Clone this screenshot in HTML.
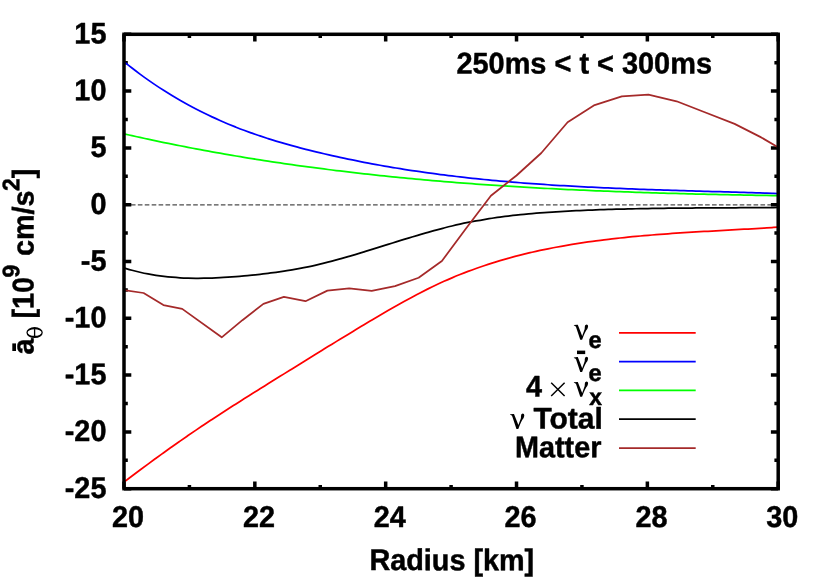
<!DOCTYPE html>
<html><head><meta charset="utf-8"><title>plot</title>
<style>html,body{margin:0;padding:0;background:#fff;}svg{display:block;will-change:transform;}
text{font-family:"Liberation Sans",sans-serif;font-weight:bold;font-size:28.8px;fill:#000;stroke:#000;stroke-width:0.45px;stroke-linejoin:round;text-rendering:geometricPrecision;}
.sy{font-family:"Liberation Serif",serif;font-weight:normal;}
.sm{font-size:23.0px;}
</style></head><body>
<svg width="830" height="581" viewBox="0 0 830 581">
<rect width="830" height="581" fill="#fff"/>
<defs><clipPath id="c"><rect x="124.0" y="34.3" width="654.2" height="454.4"/></clipPath></defs>
<line x1="124.0" y1="204.80" x2="778.2" y2="204.80" stroke="#4d4d4d" stroke-width="1.3" stroke-dasharray="4.612 2.306"/>
<path d="M124.00 488.70 h7.30 M778.20 488.70 h-7.30 M124.00 460.30 h3.80 M778.20 460.30 h-3.80 M124.00 431.90 h7.30 M778.20 431.90 h-7.30 M124.00 403.50 h3.80 M778.20 403.50 h-3.80 M124.00 375.10 h7.30 M778.20 375.10 h-7.30 M124.00 346.70 h3.80 M778.20 346.70 h-3.80 M124.00 318.30 h7.30 M778.20 318.30 h-7.30 M124.00 289.90 h3.80 M778.20 289.90 h-3.80 M124.00 261.50 h7.30 M778.20 261.50 h-7.30 M124.00 233.10 h3.80 M778.20 233.10 h-3.80 M124.00 204.70 h7.30 M778.20 204.70 h-7.30 M124.00 176.30 h3.80 M778.20 176.30 h-3.80 M124.00 147.90 h7.30 M778.20 147.90 h-7.30 M124.00 119.50 h3.80 M778.20 119.50 h-3.80 M124.00 91.10 h7.30 M778.20 91.10 h-7.30 M124.00 62.70 h3.80 M778.20 62.70 h-3.80 M124.00 34.30 h7.30 M778.20 34.30 h-7.30 M124.00 488.70 v-7.30 M124.00 34.30 v7.30 M189.42 488.70 v-3.80 M189.42 34.30 v3.80 M254.84 488.70 v-7.30 M254.84 34.30 v7.30 M320.26 488.70 v-3.80 M320.26 34.30 v3.80 M385.68 488.70 v-7.30 M385.68 34.30 v7.30 M451.10 488.70 v-3.80 M451.10 34.30 v3.80 M516.52 488.70 v-7.30 M516.52 34.30 v7.30 M581.94 488.70 v-3.80 M581.94 34.30 v3.80 M647.36 488.70 v-7.30 M647.36 34.30 v7.30 M712.78 488.70 v-3.80 M712.78 34.30 v3.80 M778.20 488.70 v-7.30 M778.20 34.30 v7.30" stroke="#000" stroke-width="3.5" fill="none"/>
<g clip-path="url(#c)" fill="none" stroke-width="1.75" stroke-linejoin="round">
<path d="M124.00 482.13 C125.33 481.11 129.33 478.05 132.00 476.03 C134.67 474.02 137.33 472.01 140.00 470.02 C142.67 468.03 145.33 466.05 148.00 464.09 C150.67 462.12 153.33 460.17 156.00 458.23 C158.67 456.29 161.33 454.37 164.00 452.45 C166.67 450.54 169.33 448.64 172.00 446.75 C174.67 444.86 177.33 442.99 180.00 441.13 C182.67 439.27 185.33 437.42 188.00 435.58 C190.67 433.75 193.33 431.92 196.00 430.11 C198.67 428.30 201.33 426.51 204.00 424.72 C206.67 422.94 209.33 421.17 212.00 419.41 C214.67 417.65 217.33 415.90 220.00 414.17 C222.67 412.44 225.33 410.71 228.00 409.00 C230.67 407.29 233.33 405.59 236.00 403.89 C238.67 402.20 241.33 400.51 244.00 398.83 C246.67 397.15 249.33 395.48 252.00 393.81 C254.67 392.14 257.33 390.47 260.00 388.81 C262.67 387.14 265.33 385.49 268.00 383.83 C270.67 382.17 273.33 380.51 276.00 378.85 C278.67 377.19 281.33 375.53 284.00 373.87 C286.67 372.21 289.33 370.55 292.00 368.90 C294.67 367.24 297.33 365.58 300.00 363.92 C302.67 362.27 305.33 360.61 308.00 358.96 C310.67 357.31 313.33 355.65 316.00 354.01 C318.67 352.36 321.33 350.71 324.00 349.07 C326.67 347.43 329.33 345.79 332.00 344.15 C334.67 342.51 337.33 340.88 340.00 339.25 C342.67 337.63 345.33 336.00 348.00 334.39 C350.67 332.77 353.33 331.16 356.00 329.55 C358.67 327.94 361.33 326.34 364.00 324.74 C366.67 323.15 369.33 321.56 372.00 319.98 C374.67 318.40 377.33 316.82 380.00 315.26 C382.67 313.69 385.33 312.13 388.00 310.59 C390.67 309.05 393.33 307.52 396.00 306.01 C398.67 304.50 401.33 303.00 404.00 301.52 C406.67 300.05 409.33 298.59 412.00 297.16 C414.67 295.73 417.33 294.31 420.00 292.93 C422.67 291.55 425.33 290.20 428.00 288.87 C430.67 287.55 433.33 286.25 436.00 285.00 C438.67 283.74 441.33 282.51 444.00 281.32 C446.67 280.12 449.33 278.96 452.00 277.83 C454.67 276.70 457.33 275.60 460.00 274.53 C462.67 273.47 465.33 272.43 468.00 271.42 C470.67 270.41 473.33 269.43 476.00 268.48 C478.67 267.53 481.33 266.60 484.00 265.71 C486.67 264.81 489.33 263.94 492.00 263.10 C494.67 262.25 497.33 261.43 500.00 260.64 C502.67 259.85 505.33 259.08 508.00 258.33 C510.67 257.59 513.33 256.87 516.00 256.17 C518.67 255.47 521.33 254.79 524.00 254.14 C526.67 253.48 529.33 252.85 532.00 252.24 C534.67 251.62 537.33 251.03 540.00 250.46 C542.67 249.88 545.33 249.33 548.00 248.79 C550.67 248.26 553.33 247.74 556.00 247.24 C558.67 246.74 561.33 246.25 564.00 245.78 C566.67 245.32 569.33 244.86 572.00 244.43 C574.67 243.99 577.33 243.57 580.00 243.16 C582.67 242.75 585.33 242.36 588.00 241.98 C590.67 241.60 593.33 241.23 596.00 240.87 C598.67 240.52 601.33 240.18 604.00 239.85 C606.67 239.52 609.33 239.20 612.00 238.89 C614.67 238.58 617.33 238.28 620.00 238.00 C622.67 237.71 625.33 237.44 628.00 237.17 C630.67 236.90 633.33 236.65 636.00 236.40 C638.67 236.15 641.33 235.91 644.00 235.68 C646.67 235.44 649.33 235.22 652.00 235.00 C654.67 234.79 657.33 234.58 660.00 234.38 C662.67 234.17 665.33 233.98 668.00 233.79 C670.67 233.60 673.33 233.41 676.00 233.23 C678.67 233.05 681.33 232.88 684.00 232.71 C686.67 232.53 689.33 232.37 692.00 232.20 C694.67 232.04 697.33 231.88 700.00 231.72 C702.67 231.57 705.33 231.41 708.00 231.26 C710.67 231.11 713.33 230.96 716.00 230.81 C718.67 230.66 721.33 230.51 724.00 230.36 C726.67 230.21 729.33 230.07 732.00 229.92 C734.67 229.77 737.33 229.62 740.00 229.47 C742.67 229.32 745.33 229.17 748.00 229.02 C750.67 228.87 753.33 228.71 756.00 228.55 C758.67 228.40 761.33 228.24 764.00 228.07 C766.67 227.91 769.63 227.72 772.00 227.57 C774.37 227.42 777.17 227.24 778.20 227.17" stroke="#ff0000"/>
<path d="M124.00 61.64 C125.33 62.70 129.33 65.94 132.00 68.01 C134.67 70.09 137.33 72.11 140.00 74.09 C142.67 76.06 145.33 77.99 148.00 79.87 C150.67 81.75 153.33 83.59 156.00 85.38 C158.67 87.17 161.33 88.91 164.00 90.61 C166.67 92.31 169.33 93.97 172.00 95.59 C174.67 97.20 177.33 98.77 180.00 100.31 C182.67 101.84 185.33 103.34 188.00 104.79 C190.67 106.25 193.33 107.66 196.00 109.04 C198.67 110.42 201.33 111.77 204.00 113.08 C206.67 114.38 209.33 115.66 212.00 116.90 C214.67 118.14 217.33 119.34 220.00 120.51 C222.67 121.69 225.33 122.83 228.00 123.94 C230.67 125.05 233.33 126.13 236.00 127.19 C238.67 128.24 241.33 129.27 244.00 130.26 C246.67 131.26 249.33 132.23 252.00 133.18 C254.67 134.12 257.33 135.04 260.00 135.94 C262.67 136.83 265.33 137.71 268.00 138.56 C270.67 139.41 273.33 140.24 276.00 141.04 C278.67 141.85 281.33 142.64 284.00 143.41 C286.67 144.18 289.33 144.93 292.00 145.66 C294.67 146.40 297.33 147.11 300.00 147.81 C302.67 148.51 305.33 149.20 308.00 149.87 C310.67 150.54 313.33 151.20 316.00 151.85 C318.67 152.49 321.33 153.12 324.00 153.75 C326.67 154.37 329.33 154.98 332.00 155.58 C334.67 156.18 337.33 156.77 340.00 157.35 C342.67 157.93 345.33 158.50 348.00 159.06 C350.67 159.61 353.33 160.16 356.00 160.70 C358.67 161.23 361.33 161.76 364.00 162.28 C366.67 162.79 369.33 163.30 372.00 163.80 C374.67 164.29 377.33 164.78 380.00 165.26 C382.67 165.73 385.33 166.20 388.00 166.66 C390.67 167.12 393.33 167.57 396.00 168.00 C398.67 168.44 401.33 168.87 404.00 169.30 C406.67 169.72 409.33 170.13 412.00 170.53 C414.67 170.94 417.33 171.33 420.00 171.72 C422.67 172.11 425.33 172.49 428.00 172.86 C430.67 173.23 433.33 173.59 436.00 173.94 C438.67 174.30 441.33 174.64 444.00 174.98 C446.67 175.32 449.33 175.65 452.00 175.97 C454.67 176.30 457.33 176.61 460.00 176.92 C462.67 177.23 465.33 177.53 468.00 177.82 C470.67 178.12 473.33 178.40 476.00 178.68 C478.67 178.96 481.33 179.24 484.00 179.50 C486.67 179.77 489.33 180.03 492.00 180.28 C494.67 180.54 497.33 180.78 500.00 181.02 C502.67 181.27 505.33 181.50 508.00 181.73 C510.67 181.96 513.33 182.18 516.00 182.40 C518.67 182.62 521.33 182.83 524.00 183.03 C526.67 183.24 529.33 183.44 532.00 183.63 C534.67 183.83 537.33 184.02 540.00 184.21 C542.67 184.39 545.33 184.57 548.00 184.75 C550.67 184.92 553.33 185.09 556.00 185.26 C558.67 185.42 561.33 185.59 564.00 185.74 C566.67 185.90 569.33 186.05 572.00 186.20 C574.67 186.35 577.33 186.50 580.00 186.64 C582.67 186.78 585.33 186.92 588.00 187.05 C590.67 187.18 593.33 187.31 596.00 187.44 C598.67 187.56 601.33 187.69 604.00 187.81 C606.67 187.93 609.33 188.04 612.00 188.16 C614.67 188.27 617.33 188.38 620.00 188.49 C622.67 188.60 625.33 188.70 628.00 188.81 C630.67 188.91 633.33 189.01 636.00 189.11 C638.67 189.21 641.33 189.30 644.00 189.40 C646.67 189.49 649.33 189.58 652.00 189.67 C654.67 189.76 657.33 189.85 660.00 189.94 C662.67 190.03 665.33 190.11 668.00 190.20 C670.67 190.28 673.33 190.36 676.00 190.44 C678.67 190.52 681.33 190.61 684.00 190.68 C686.67 190.76 689.33 190.84 692.00 190.92 C694.67 191.00 697.33 191.08 700.00 191.15 C702.67 191.23 705.33 191.31 708.00 191.38 C710.67 191.46 713.33 191.54 716.00 191.61 C718.67 191.69 721.33 191.77 724.00 191.84 C726.67 191.92 729.33 192.00 732.00 192.07 C734.67 192.15 737.33 192.23 740.00 192.31 C742.67 192.39 745.33 192.47 748.00 192.55 C750.67 192.63 753.33 192.71 756.00 192.79 C758.67 192.87 761.33 192.96 764.00 193.04 C766.67 193.13 769.63 193.22 772.00 193.30 C774.37 193.38 777.17 193.48 778.20 193.51" stroke="#0000ff"/>
<path d="M124.00 133.85 C125.33 134.15 129.33 135.06 132.00 135.66 C134.67 136.26 137.33 136.85 140.00 137.43 C142.67 138.02 145.33 138.60 148.00 139.17 C150.67 139.74 153.33 140.31 156.00 140.87 C158.67 141.43 161.33 141.99 164.00 142.54 C166.67 143.09 169.33 143.63 172.00 144.17 C174.67 144.70 177.33 145.24 180.00 145.76 C182.67 146.29 185.33 146.81 188.00 147.32 C190.67 147.84 193.33 148.35 196.00 148.85 C198.67 149.35 201.33 149.85 204.00 150.34 C206.67 150.84 209.33 151.32 212.00 151.80 C214.67 152.28 217.33 152.76 220.00 153.23 C222.67 153.70 225.33 154.17 228.00 154.62 C230.67 155.08 233.33 155.54 236.00 155.99 C238.67 156.44 241.33 156.88 244.00 157.32 C246.67 157.76 249.33 158.19 252.00 158.62 C254.67 159.05 257.33 159.47 260.00 159.89 C262.67 160.31 265.33 160.72 268.00 161.13 C270.67 161.54 273.33 161.94 276.00 162.34 C278.67 162.74 281.33 163.13 284.00 163.52 C286.67 163.90 289.33 164.29 292.00 164.67 C294.67 165.05 297.33 165.42 300.00 165.79 C302.67 166.16 305.33 166.52 308.00 166.88 C310.67 167.24 313.33 167.60 316.00 167.95 C318.67 168.30 321.33 168.64 324.00 168.99 C326.67 169.33 329.33 169.66 332.00 170.00 C334.67 170.33 337.33 170.66 340.00 170.98 C342.67 171.30 345.33 171.62 348.00 171.94 C350.67 172.25 353.33 172.56 356.00 172.87 C358.67 173.18 361.33 173.48 364.00 173.78 C366.67 174.07 369.33 174.37 372.00 174.66 C374.67 174.95 377.33 175.23 380.00 175.51 C382.67 175.79 385.33 176.07 388.00 176.34 C390.67 176.62 393.33 176.89 396.00 177.15 C398.67 177.42 401.33 177.68 404.00 177.94 C406.67 178.19 409.33 178.45 412.00 178.70 C414.67 178.95 417.33 179.19 420.00 179.44 C422.67 179.68 425.33 179.92 428.00 180.15 C430.67 180.39 433.33 180.62 436.00 180.85 C438.67 181.08 441.33 181.30 444.00 181.52 C446.67 181.74 449.33 181.96 452.00 182.17 C454.67 182.39 457.33 182.60 460.00 182.80 C462.67 183.01 465.33 183.21 468.00 183.42 C470.67 183.62 473.33 183.81 476.00 184.01 C478.67 184.20 481.33 184.39 484.00 184.58 C486.67 184.77 489.33 184.95 492.00 185.13 C494.67 185.31 497.33 185.49 500.00 185.66 C502.67 185.84 505.33 186.01 508.00 186.18 C510.67 186.35 513.33 186.51 516.00 186.68 C518.67 186.84 521.33 187.00 524.00 187.16 C526.67 187.31 529.33 187.47 532.00 187.62 C534.67 187.77 537.33 187.92 540.00 188.07 C542.67 188.21 545.33 188.36 548.00 188.50 C550.67 188.64 553.33 188.78 556.00 188.91 C558.67 189.05 561.33 189.18 564.00 189.31 C566.67 189.44 569.33 189.57 572.00 189.69 C574.67 189.82 577.33 189.94 580.00 190.06 C582.67 190.18 585.33 190.30 588.00 190.42 C590.67 190.53 593.33 190.65 596.00 190.76 C598.67 190.87 601.33 190.98 604.00 191.09 C606.67 191.19 609.33 191.30 612.00 191.40 C614.67 191.50 617.33 191.60 620.00 191.70 C622.67 191.80 625.33 191.90 628.00 191.99 C630.67 192.09 633.33 192.18 636.00 192.27 C638.67 192.36 641.33 192.45 644.00 192.54 C646.67 192.62 649.33 192.71 652.00 192.79 C654.67 192.87 657.33 192.96 660.00 193.03 C662.67 193.11 665.33 193.19 668.00 193.27 C670.67 193.35 673.33 193.42 676.00 193.49 C678.67 193.57 681.33 193.64 684.00 193.71 C686.67 193.78 689.33 193.85 692.00 193.91 C694.67 193.98 697.33 194.05 700.00 194.11 C702.67 194.18 705.33 194.24 708.00 194.30 C710.67 194.36 713.33 194.42 716.00 194.48 C718.67 194.54 721.33 194.60 724.00 194.66 C726.67 194.71 729.33 194.77 732.00 194.82 C734.67 194.88 737.33 194.93 740.00 194.98 C742.67 195.04 745.33 195.09 748.00 195.14 C750.67 195.19 753.33 195.24 756.00 195.29 C758.67 195.34 761.33 195.38 764.00 195.43 C766.67 195.48 769.63 195.53 772.00 195.57 C774.37 195.61 777.17 195.65 778.20 195.67" stroke="#00ff00"/>
<path d="M124.00 267.92 C125.33 268.31 129.33 269.53 132.00 270.25 C134.67 270.97 137.33 271.63 140.00 272.24 C142.67 272.85 145.33 273.41 148.00 273.91 C150.67 274.42 153.33 274.87 156.00 275.28 C158.67 275.69 161.33 276.05 164.00 276.37 C166.67 276.69 169.33 276.96 172.00 277.19 C174.67 277.43 177.33 277.62 180.00 277.77 C182.67 277.93 185.33 278.04 188.00 278.13 C190.67 278.21 193.33 278.26 196.00 278.28 C198.67 278.30 201.33 278.28 204.00 278.24 C206.67 278.20 209.33 278.13 212.00 278.04 C214.67 277.94 217.33 277.82 220.00 277.69 C222.67 277.55 225.33 277.38 228.00 277.20 C230.67 277.03 233.33 276.83 236.00 276.61 C238.67 276.40 241.33 276.17 244.00 275.93 C246.67 275.69 249.33 275.44 252.00 275.17 C254.67 274.90 257.33 274.61 260.00 274.31 C262.67 274.01 265.33 273.69 268.00 273.35 C270.67 273.02 273.33 272.66 276.00 272.29 C278.67 271.91 281.33 271.52 284.00 271.11 C286.67 270.69 289.33 270.26 292.00 269.80 C294.67 269.34 297.33 268.86 300.00 268.36 C302.67 267.86 305.33 267.33 308.00 266.78 C310.67 266.23 313.33 265.65 316.00 265.05 C318.67 264.45 321.33 263.82 324.00 263.16 C326.67 262.51 329.33 261.83 332.00 261.13 C334.67 260.42 337.33 259.70 340.00 258.96 C342.67 258.22 345.33 257.45 348.00 256.68 C350.67 255.91 353.33 255.12 356.00 254.32 C358.67 253.52 361.33 252.70 364.00 251.88 C366.67 251.07 369.33 250.24 372.00 249.41 C374.67 248.58 377.33 247.74 380.00 246.91 C382.67 246.07 385.33 245.23 388.00 244.40 C390.67 243.56 393.33 242.73 396.00 241.90 C398.67 241.07 401.33 240.24 404.00 239.42 C406.67 238.60 409.33 237.79 412.00 236.99 C414.67 236.19 417.33 235.39 420.00 234.61 C422.67 233.83 425.33 233.06 428.00 232.31 C430.67 231.56 433.33 230.82 436.00 230.10 C438.67 229.38 441.33 228.67 444.00 227.99 C446.67 227.31 449.33 226.64 452.00 226.01 C454.67 225.37 457.33 224.75 460.00 224.16 C462.67 223.57 465.33 223.01 468.00 222.47 C470.67 221.93 473.33 221.42 476.00 220.92 C478.67 220.43 481.33 219.96 484.00 219.52 C486.67 219.07 489.33 218.65 492.00 218.24 C494.67 217.84 497.33 217.45 500.00 217.09 C502.67 216.72 505.33 216.38 508.00 216.05 C510.67 215.72 513.33 215.41 516.00 215.12 C518.67 214.82 521.33 214.55 524.00 214.28 C526.67 214.02 529.33 213.77 532.00 213.54 C534.67 213.31 537.33 213.09 540.00 212.88 C542.67 212.67 545.33 212.48 548.00 212.29 C550.67 212.11 553.33 211.93 556.00 211.77 C558.67 211.61 561.33 211.45 564.00 211.31 C566.67 211.16 569.33 211.02 572.00 210.89 C574.67 210.76 577.33 210.64 580.00 210.52 C582.67 210.40 585.33 210.29 588.00 210.18 C590.67 210.07 593.33 209.97 596.00 209.87 C598.67 209.78 601.33 209.69 604.00 209.60 C606.67 209.51 609.33 209.43 612.00 209.35 C614.67 209.27 617.33 209.20 620.00 209.13 C622.67 209.06 625.33 208.99 628.00 208.93 C630.67 208.87 633.33 208.81 636.00 208.75 C638.67 208.70 641.33 208.65 644.00 208.60 C646.67 208.55 649.33 208.51 652.00 208.46 C654.67 208.42 657.33 208.38 660.00 208.35 C662.67 208.31 665.33 208.28 668.00 208.24 C670.67 208.21 673.33 208.18 676.00 208.16 C678.67 208.13 681.33 208.10 684.00 208.08 C686.67 208.06 689.33 208.04 692.00 208.01 C694.67 207.99 697.33 207.98 700.00 207.96 C702.67 207.94 705.33 207.92 708.00 207.91 C710.67 207.89 713.33 207.88 716.00 207.86 C718.67 207.85 721.33 207.83 724.00 207.82 C726.67 207.81 729.33 207.79 732.00 207.78 C734.67 207.76 737.33 207.75 740.00 207.74 C742.67 207.72 745.33 207.71 748.00 207.69 C750.67 207.68 753.33 207.66 756.00 207.65 C758.67 207.63 761.33 207.61 764.00 207.59 C766.67 207.57 769.63 207.55 772.00 207.53 C774.37 207.51 777.17 207.49 778.20 207.48" stroke="#000000"/>
<path d="M124.00 290.10 L143.60 293.00 L163.40 305.10 L182.20 308.90 L221.70 337.30 L242.40 320.20 L263.40 303.90 L283.90 296.90 L305.50 301.20 L327.40 290.60 L349.20 288.30 L371.70 290.90 L395.00 286.10 L418.60 277.70 L441.90 261.00 L466.00 228.50 L490.90 195.80 L516.50 175.50 L541.30 153.00 L567.60 122.30 L594.60 105.10 L621.80 96.30 L648.40 94.70 L676.60 101.30 L704.80 112.30 L734.60 123.90 L761.20 137.40 L778.00 147.20" stroke="#a52a2a"/>
</g>
<rect x="124.0" y="34.3" width="654.20" height="454.40" fill="none" stroke="#000" stroke-width="3.5"/>
<text transform="translate(106.40 497.90) rotate(0.03) scale(1.0 1.04)" text-anchor="end">-25</text>
<text transform="translate(106.40 441.10) rotate(0.03) scale(1.0 1.04)" text-anchor="end">-20</text>
<text transform="translate(106.40 384.30) rotate(0.03) scale(1.0 1.04)" text-anchor="end">-15</text>
<text transform="translate(106.40 327.50) rotate(0.03) scale(1.0 1.04)" text-anchor="end">-10</text>
<text transform="translate(106.40 270.70) rotate(0.03) scale(1.0 1.04)" text-anchor="end">-5</text>
<text transform="translate(106.40 213.90) rotate(0.03) scale(1.0 1.04)" text-anchor="end">0</text>
<text transform="translate(106.40 157.10) rotate(0.03) scale(1.0 1.04)" text-anchor="end">5</text>
<text transform="translate(106.40 100.30) rotate(0.03) scale(1.0 1.04)" text-anchor="end">10</text>
<text transform="translate(106.40 43.50) rotate(0.03) scale(1.0 1.04)" text-anchor="end">15</text>
<text transform="translate(128.10 527.00) rotate(0.03) scale(1.0 1.04)" text-anchor="middle">20</text>
<text transform="translate(258.94 527.00) rotate(0.03) scale(1.0 1.04)" text-anchor="middle">22</text>
<text transform="translate(389.78 527.00) rotate(0.03) scale(1.0 1.04)" text-anchor="middle">24</text>
<text transform="translate(520.62 527.00) rotate(0.03) scale(1.0 1.04)" text-anchor="middle">26</text>
<text transform="translate(651.46 527.00) rotate(0.03) scale(1.0 1.04)" text-anchor="middle">28</text>
<text transform="translate(782.30 527.00) rotate(0.03) scale(1.0 1.04)" text-anchor="middle">30</text>
<text transform="translate(369.40 570.10) rotate(0.03) scale(1.0 1.04)">Radius [km]</text>
<text transform="translate(456.40 73.40) rotate(0.03) scale(1.004 1.04)">250ms &lt; t &lt; 300ms</text>
<line x1="619.0" y1="332.80" x2="695.7" y2="332.80" stroke="#ff0000" stroke-width="1.75"/>
<line x1="619.0" y1="361.60" x2="695.7" y2="361.60" stroke="#0000ff" stroke-width="1.75"/>
<line x1="619.0" y1="390.40" x2="695.7" y2="390.40" stroke="#00ff00" stroke-width="1.75"/>
<line x1="619.0" y1="419.20" x2="695.7" y2="419.20" stroke="#000000" stroke-width="1.75"/>
<line x1="619.0" y1="448.00" x2="695.7" y2="448.00" stroke="#a52a2a" stroke-width="1.75"/>
<path transform="translate(573.80 339.40)" d="M0,-13.8 L0.2,-14.3 Q2.2,-14.7 4.0,-14.6 L8.4,-3.5 L10.8,-10.2 Q11.1,-11.3 10.95,-12.4 Q10.9,-14.9 12.7,-15.0 Q14.4,-14.9 14.3,-13.2 Q14.1,-11.6 13.5,-10.4 Q11.3,-8.0 8.3,0.3 L6.45,0.3 L2.3,-12.2 Q1.8,-13.5 0,-13.8 Z" fill="#000"/>
<text transform="translate(588.60 348.10) rotate(0.03) scale(1.03 1.04)" class="sm">e</text>
<rect x="577" y="350.6" width="8.2" height="3.5" fill="#000"/>
<path transform="translate(573.80 371.70)" d="M0,-13.8 L0.2,-14.3 Q2.2,-14.7 4.0,-14.6 L8.4,-3.5 L10.8,-10.2 Q11.1,-11.3 10.95,-12.4 Q10.9,-14.9 12.7,-15.0 Q14.4,-14.9 14.3,-13.2 Q14.1,-11.6 13.5,-10.4 Q11.3,-8.0 8.3,0.3 L6.45,0.3 L2.3,-12.2 Q1.8,-13.5 0,-13.8 Z" fill="#000"/>
<text transform="translate(588.60 380.90) rotate(0.03) scale(1.03 1.04)" class="sm">e</text>
<text transform="translate(525.90 396.50) rotate(0.03) scale(1.0 1.04)">4</text>
<path d="M551.20 382.70 L564.60 396.10 M551.20 396.10 L564.60 382.70" stroke="#000" stroke-width="1.45" fill="none"/>
<path transform="translate(573.80 396.50)" d="M0,-13.8 L0.2,-14.3 Q2.2,-14.7 4.0,-14.6 L8.4,-3.5 L10.8,-10.2 Q11.1,-11.3 10.95,-12.4 Q10.9,-14.9 12.7,-15.0 Q14.4,-14.9 14.3,-13.2 Q14.1,-11.6 13.5,-10.4 Q11.3,-8.0 8.3,0.3 L6.45,0.3 L2.3,-12.2 Q1.8,-13.5 0,-13.8 Z" fill="#000"/>
<text transform="translate(589.20 405.10) rotate(0.03) scale(1.0 1.04)" class="sm">x</text>
<path transform="translate(510.00 428.60)" d="M0,-13.8 L0.2,-14.3 Q2.2,-14.7 4.0,-14.6 L8.4,-3.5 L10.8,-10.2 Q11.1,-11.3 10.95,-12.4 Q10.9,-14.9 12.7,-15.0 Q14.4,-14.9 14.3,-13.2 Q14.1,-11.6 13.5,-10.4 Q11.3,-8.0 8.3,0.3 L6.45,0.3 L2.3,-12.2 Q1.8,-13.5 0,-13.8 Z" fill="#000"/>
<text transform="translate(533.40 428.60) rotate(0.03) scale(1.04 1.04)">Total</text>
<text transform="translate(515.00 457.30) rotate(0.03) scale(1.0 1.04)">Matter</text>
<g transform="translate(33.5,354.6) rotate(-90)">
<text transform="translate(0.00 0.00) rotate(0.03) scale(1.0 1.04)">a</text>
<rect x="3.6" y="-21.2" width="7.6" height="3.7" fill="#000"/>
<path d="M16.50 1.10 a5.50 8.20 0 1 0 11.00 0 a5.50 8.20 0 1 0 -11.00 0 Z M18.75 1.10 a3.25 6.95 0 1 1 6.50 0 a3.25 6.95 0 1 1 -6.50 0 Z " fill="#000" fill-rule="evenodd"/>
<rect x="18.45" y="0.45" width="7.10" height="1.3" fill="#000"/>
<text transform="translate(36.00 0.00) rotate(0.03) scale(1.0 1.04)">[10</text>
<text transform="translate(77.20 -14.20) rotate(0.03) scale(1.0 1.04)" class="sm">9</text>
<text transform="translate(98.60 0.00) rotate(0.03) scale(1.0 1.04)">cm/s</text>
<text transform="translate(163.50 -14.20) rotate(0.03) scale(1.0 1.04)" class="sm">2</text>
<text transform="translate(176.30 0.00) rotate(0.03) scale(1.0 1.04)">]</text>
</g>
</svg></body></html>
